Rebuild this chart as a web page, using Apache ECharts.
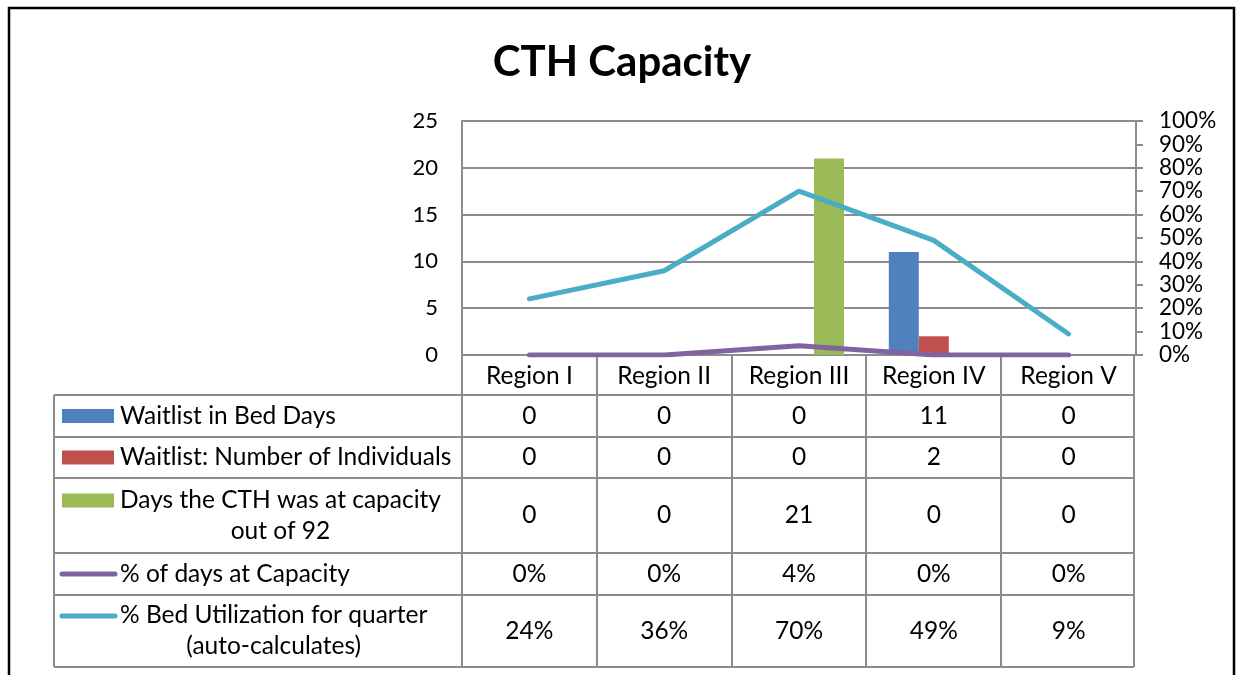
<!DOCTYPE html>
<html>
<head>
<meta charset="utf-8">
<script src="https://cdn.jsdelivr.net/npm/echarts@6/dist/echarts.min.js"></script>
<style>
html,body{margin:0;padding:0;background:#fff;}
#c{width:1236px;height:675px;}
</style>
</head>
<body>
<div id="c"></div>
<script>
const categories = ['Region I', 'Region II', 'Region III', 'Region IV', 'Region V'];
const waitlistBedDays = [0, 0, 0, 11, 0];
const waitlistIndividuals = [0, 0, 0, 2, 0];
const daysAtCapacity = [0, 0, 21, 0, 0];
const pctDaysAtCapacity = [0, 0, 4, 0, 0];
const pctBedUtilization = [24, 36, 70, 49, 9];

const seriesNames = ['Waitlist in Bed Days', 'Waitlist: Number of Individuals', 'Days the CTH was at capacity\nout of 92', '% of days at Capacity', '% Bed Utilization for quarter\n(auto-calculates)'];

const FONT = 'Lato';
const TFS = 24.5; // table font size
const GRID_COLOR = '#8c8c8c';
const colors = ['#4F81BD', '#C0504D', '#9BBB59', '#8064A2', '#4BACC6'];

const chart = echarts.init(document.getElementById('c'), null, {renderer: 'canvas'});

const gridLeft = 462, gridTop = 121, gridW = 674, gridH = 234;

const option = {
  animation: false,
  backgroundColor: '#fff',
  textStyle: {fontFamily: FONT},
  title: {
    text: 'CTH Capacity',
    left: 617, top: 36, textAlign: 'center',
    textStyle: {fontFamily: FONT, fontSize: 42, fontWeight: 'bold', color: '#000'}
  },
  grid: {left: gridLeft, top: gridTop, width: gridW, height: gridH, containLabel: false},
  xAxis: {
    type: 'category',
    data: categories,
    axisLine: {show: false},
    axisTick: {show: false},
    axisLabel: {show: true, fontFamily: FONT, fontSize: TFS, color: '#000', margin: 9}
  },
  yAxis: [
    {
      type: 'value', min: 0, max: 25, interval: 5,
      axisLine: {show: true, lineStyle: {color: GRID_COLOR, width: 2}},
      axisTick: {show: false},
      splitLine: {show: true, lineStyle: {color: GRID_COLOR, width: 2}},
      axisLabel: {fontFamily: FONT, fontSize: 22, color: '#000', margin: 24}
    },
    {
      type: 'value', min: 0, max: 100, interval: 10,
      axisLine: {show: true, lineStyle: {color: GRID_COLOR, width: 2}},
      axisTick: {show: true, inside: false, length: 7, lineStyle: {color: GRID_COLOR, width: 2}},
      splitLine: {show: false},
      axisLabel: {fontFamily: FONT, fontSize: 22.5, color: '#000', margin: 23, lineHeight: 22,
        formatter: v => v + '%'}
    }
  ],
  series: [
    {name: seriesNames[0], type: 'bar', data: waitlistBedDays, barWidth: 30, barGap: '0%', itemStyle: {color: colors[0]}, z: 2},
    {name: seriesNames[1], type: 'bar', data: waitlistIndividuals, barWidth: 30, barGap: '0%', itemStyle: {color: colors[1]}, z: 2},
    {name: seriesNames[2], type: 'bar', data: daysAtCapacity, barWidth: 30, barGap: '0%', itemStyle: {color: colors[2]}, z: 2},
    {name: seriesNames[3], type: 'line', yAxisIndex: 1, data: pctDaysAtCapacity, symbol: 'none',
      lineStyle: {color: colors[3], width: 5, cap: 'round'}, itemStyle: {color: colors[3]}, z: 4},
    {name: seriesNames[4], type: 'line', yAxisIndex: 1, data: pctBedUtilization, symbol: 'none',
      lineStyle: {color: colors[4], width: 5, cap: 'round'}, itemStyle: {color: colors[4]}, z: 5}
  ]
};
chart.setOption(option);

// Build data table from arrays
const rows = [
  {name: seriesNames[0], vals: waitlistBedDays, kind: 'bar', color: colors[0], fmt: v => String(v)},
  {name: seriesNames[1], vals: waitlistIndividuals, kind: 'bar', color: colors[1], fmt: v => String(v)},
  {name: seriesNames[2], vals: daysAtCapacity, kind: 'bar', color: colors[2], fmt: v => String(v)},
  {name: seriesNames[3], vals: pctDaysAtCapacity, kind: 'line', color: colors[3], fmt: v => v + '%'},
  {name: seriesNames[4], vals: pctBedUtilization, kind: 'line', color: colors[4], fmt: v => v + '%'}
];
const rowBounds = [395, 437, 478, 553, 595, 667];
const tableLeft = 54;
const axisY = gridTop + gridH;
const xRight = gridLeft + gridW - 2;
const catW = gridW / categories.length;
const tfont = TFS + 'px ' + FONT;

const g = [];
const ls = {stroke: GRID_COLOR, lineWidth: 2};
for (let i = 0; i <= categories.length; i++) {
  const x = Math.round(gridLeft + i * catW) - (i === categories.length ? 2 : 0);
  g.push({type: 'line', shape: {x1: x, y1: axisY, x2: x, y2: rowBounds[rowBounds.length - 1]}, style: ls, z: 1});
}
g.push({type: 'line', shape: {x1: tableLeft, y1: rowBounds[0], x2: tableLeft, y2: rowBounds[rowBounds.length - 1]}, style: ls});
rowBounds.forEach(y => g.push({type: 'line', shape: {x1: tableLeft, y1: y, x2: xRight, y2: y}, style: ls}));

rows.forEach((r, ri) => {
  const y0 = rowBounds[ri], y1 = rowBounds[ri + 1], yc = (y0 + y1) / 2;
  const twoLine = r.name.indexOf('\n') >= 0;
  const firstLineY = twoLine ? yc - 15 : yc;
  if (r.kind === 'bar') {
    g.push({type: 'rect', shape: {x: 62, y: firstLineY - 7, width: 52, height: 14}, style: {fill: r.color}});
  } else {
    g.push({type: 'line', shape: {x1: 62, y1: firstLineY, x2: 115, y2: firstLineY}, style: {stroke: r.color, lineWidth: 5, lineCap: 'round'}});
  }
  if (twoLine) {
    const lines = r.name.split('\n');
    const probe = new echarts.graphic.Text({style: {text: lines[0], font: tfont}});
    const w = probe.getBoundingRect().width;
    g.push({type: 'text', x: 120 + w / 2, y: yc, style: {text: r.name, font: tfont, fill: '#000', align: 'center', verticalAlign: 'middle', lineHeight: 31}});
  } else {
    g.push({type: 'text', x: 120, y: yc, style: {text: r.name, font: tfont, fill: '#000', align: 'left', verticalAlign: 'middle'}});
  }
  r.vals.forEach((v, ci) => {
    const cx = chart.convertToPixel({xAxisIndex: 0}, categories[ci]);
    g.push({type: 'text', x: cx, y: yc, style: {text: r.fmt(v), font: tfont, fill: '#000', align: 'center', verticalAlign: 'middle'}});
  });
});

g.push({type: 'polyline', shape: {points: [[9, 675], [9, 8], [1234, 8], [1234, 675]]}, style: {stroke: '#000', lineWidth: 2.5, fill: null}});

chart.setOption({graphic: {elements: g}});
</script>
</body>
</html>
